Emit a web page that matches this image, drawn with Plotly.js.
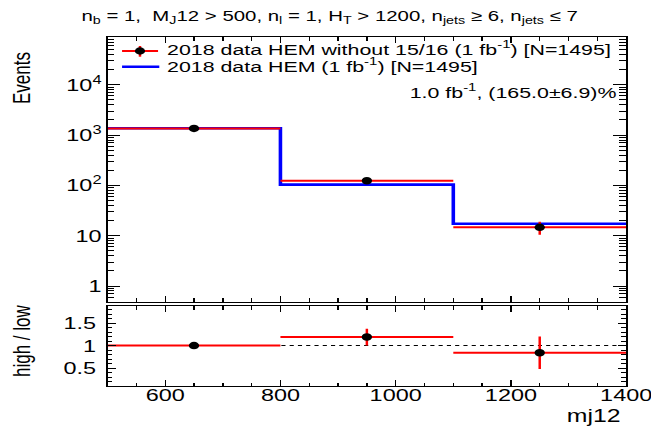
<!DOCTYPE html>
<html>
<head>
<meta charset="utf-8">
<script src="https://cdn.plot.ly/plotly-3.0.1.min.js"></script>
<style>
html,body{margin:0;padding:0;background:#fff;}
#wrap{width:651px;height:428px;overflow:hidden;position:relative;}
#c{width:482px;height:428px;transform:scaleX(1.3792);transform-origin:0 0;}
</style>
</head>
<body>
<div id="wrap"><div id="c"></div></div>
<script>
// ---- data ----
const binEdges = [500, 800, 1100, 1400];
const dataNoHEM = [1358, 124, 14.7];        // 2018 data HEM without 15/16
const dataNoHEMErr = [37, 11.1, 4.2];
const dataHEM = [1374, 104, 17.3];          // 2018 data HEM
const ratio = [1.0, 1.19, 0.84];            // high / low
const ratioErr = [0.04, 0.186, 0.363];
const yTickVals = [1, 10, 100, 1000, 10000];
const yTickText = ['1', '10', '10<sup>2</sup>', '10<sup>3</sup>', '10<sup>4</sup>'];
const rTickVals = [0.5, 1, 1.5];
const rTickText = ['0.5', '1', '1.5'];
const xTitle = 'mj12';
const yTitle = 'Events';
const rTitle = 'high / low';
const legendNoHEM = '2018 data HEM without 15/16 (1 fb<sup>-1</sup>) [N=1495]';
const legendHEM = '2018 data HEM (1 fb<sup>-1</sup>) [N=1495]';
const lumiText = '1.0 fb<sup>-1</sup>, (165.0±6.9)%';
const titleText = 'n<sub>b</sub> = 1,  M<sub>J</sub>12 > 500, n<sub>l</sub> = 1, H<sub>T</sub> > 1200, n<sub>jets</sub> ≥ 6, n<sub>jets</sub> ≤ 7';

// derived
const binCenters = binEdges.slice(0, -1).map((e, i) => (e + binEdges[i + 1]) / 2);
const binHalf = binEdges.slice(0, -1).map((e, i) => (binEdges[i + 1] - e) / 2);
const stepY = dataHEM.concat([dataHEM[dataHEM.length - 1]]);

// minor tick positions for the log axis (2..9 per decade)
const logMinor = [];
for (let d = -1; d <= 4; d++) for (let k = 2; k <= 9; k++) logMinor.push(k * Math.pow(10, d));

const FONT = 'Liberation Sans, Arial, Helvetica, sans-serif';
const RED = '#ff0000', BLUE = '#0000ff';

const traces = [
  {x: binEdges, y: stepY, mode: 'lines', line: {shape: 'hv', color: BLUE, width: 2.6},
   xaxis: 'x', yaxis: 'y', showlegend: false, hoverinfo: 'skip'},
  {x: binCenters, y: dataNoHEM, mode: 'markers', marker: {color: 'black', size: 7.5},
   error_x: {type: 'data', array: binHalf, color: RED, thickness: 2, width: 0},
   error_y: {type: 'data', array: dataNoHEMErr, color: RED, thickness: 1.8, width: 0},
   xaxis: 'x', yaxis: 'y', showlegend: false, hoverinfo: 'skip'},
  {x: binCenters, y: ratio, mode: 'markers', marker: {color: 'black', size: 7.5},
   error_x: {type: 'data', array: binHalf, color: RED, thickness: 2, width: 0},
   error_y: {type: 'data', array: ratioErr, color: RED, thickness: 1.8, width: 0},
   xaxis: 'x2', yaxis: 'y2', showlegend: false, hoverinfo: 'skip'}
];

const common = {showline: true, linecolor: 'black', linewidth: 1, mirror: 'allticks',
  showgrid: false, zeroline: false, ticks: 'inside', tickcolor: 'black', tickwidth: 1};

// plot area in page px (unscaled): x 78..454, y 37..386
const px = v => (v - 78) / 376;
const py = v => (386 - v) / 349;

const layout = {
  width: 482, height: 428,
  margin: {l: 78, r: 28, t: 37, b: 42},
  paper_bgcolor: 'white', plot_bgcolor: 'white',
  font: {family: FONT, color: 'black'},
  showlegend: false,
  title: {text: titleText, font: {size: 14.8, family: FONT}, x: 239 / 482, xref: 'container', xanchor: 'center',
          y: 1 - 16 / 428, yref: 'container', yanchor: 'middle'},
  xaxis: Object.assign({}, common, {domain: [0, 1], anchor: 'y', range: [500, 1400], showticklabels: false,
    dtick: 200, tick0: 0, ticklen: 6,
    minor: {ticks: 'inside', dtick: 50, tick0: 0, ticklen: 3.5, tickcolor: 'black', tickwidth: 1}}),
  yaxis: Object.assign({}, common, {type: 'log', domain: [0.2407, 1], anchor: 'x', range: [-0.316, 4.95],
    tickmode: 'array', tickvals: yTickVals, ticktext: yTickText, ticklen: 9.3,
    tickfont: {size: 17, family: FONT},
    minor: {ticks: 'inside', tickmode: 'array', tickvals: logMinor, ticklen: 5, tickcolor: 'black', tickwidth: 1}}),
  xaxis2: Object.assign({}, common, {domain: [0, 1], anchor: 'y2', range: [500, 1400],
    dtick: 200, tick0: 0, ticklen: 6, tickfont: {size: 17, family: FONT},
    ticklabeloverflow: 'allow', ticklabelstandoff: -6, ticklabelshift: -2.5,
    minor: {ticks: 'inside', dtick: 50, tick0: 0, ticklen: 3.5, tickcolor: 'black', tickwidth: 1}}),
  yaxis2: Object.assign({}, common, {domain: [0, 0.2292], anchor: 'x2', range: [0.1, 1.88],
    tickmode: 'array', tickvals: rTickVals, ticktext: rTickText, ticklen: 6.2,
    tickfont: {size: 17, family: FONT}, ticklabelstandoff: 4,
    minor: {ticks: 'inside', dtick: 0.1, tick0: 0, ticklen: 3.5, tickcolor: 'black', tickwidth: 1}}),
  shapes: [
    {type: 'line', xref: 'x2 domain', x0: 0, x1: 1, yref: 'y2', y0: 1, y1: 1, layer: 'below',
     line: {color: 'black', width: 1, dash: '3px,3px'}},
    // legend symbols
    {type: 'line', xref: 'paper', yref: 'paper', x0: px(88.5), x1: px(114.6), y0: py(51), y1: py(51),
     line: {color: RED, width: 2}},
    {type: 'line', xref: 'paper', yref: 'paper', x0: px(101.5), x1: px(101.5), y0: py(46), y1: py(56.7),
     line: {color: RED, width: 1.8}},
    {type: 'circle', xref: 'paper', yref: 'paper', xsizemode: 'pixel', ysizemode: 'pixel',
     xanchor: px(101.5), yanchor: py(51), x0: -3.7, x1: 3.7, y0: -3.7, y1: 3.7,
     fillcolor: 'black', line: {width: 0}},
    {type: 'line', xref: 'paper', yref: 'paper', x0: px(88.5), x1: px(115.5), y0: py(66.7), y1: py(66.7),
     line: {color: BLUE, width: 2.6}}
  ],
  annotations: [
    {text: legendNoHEM, xref: 'paper', yref: 'paper', x: px(119), y: py(48), xanchor: 'left', yanchor: 'middle',
     showarrow: false, font: {size: 15.5, family: FONT}},
    {text: legendHEM, xref: 'paper', yref: 'paper', x: px(119), y: py(65.5), xanchor: 'left', yanchor: 'middle',
     showarrow: false, font: {size: 15.5, family: FONT}},
    {text: lumiText, xref: 'paper', yref: 'paper', x: px(449), y: py(91), xanchor: 'right', yanchor: 'middle',
     showarrow: false, font: {size: 15.5, family: FONT}},
    {text: yTitle, xref: 'paper', yref: 'paper', x: px(16), y: py(78), xanchor: 'center', yanchor: 'middle',
     textangle: -90, showarrow: false, font: {size: 17, family: FONT}},
    {text: rTitle, xref: 'paper', yref: 'paper', x: px(16), y: py(341), xanchor: 'center', yanchor: 'middle',
     textangle: -90, showarrow: false, font: {size: 17, family: FONT}},
    {text: xTitle, xref: 'paper', yref: 'paper', x: px(452), y: py(416), xanchor: 'right', yanchor: 'middle',
     showarrow: false, font: {size: 18, family: FONT}}
  ]
};

Plotly.newPlot('c', traces, layout, {staticPlot: true, displayModeBar: false});
</script>
</body>
</html>
